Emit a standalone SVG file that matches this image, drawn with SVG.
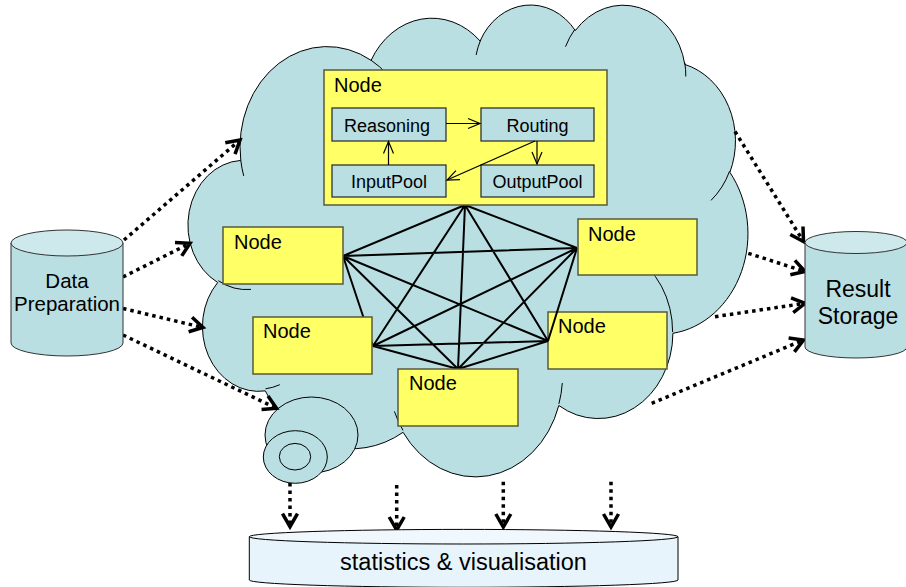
<svg xmlns="http://www.w3.org/2000/svg" width="906" height="587" viewBox="0 0 906 587">
<style>
.cloud{fill:#B9DFE2;stroke:#000;stroke-width:1}
.inner{fill:none;stroke:#000;stroke-width:1}
.bub{fill:#B9DFE2;stroke:#000;stroke-width:1}
.node{fill:#FFFF66;stroke:#5a5a3a;stroke-width:1.5}
.sub{fill:#B9DFE2;stroke:#333;stroke-width:1.3}
.mesh{stroke:#000;stroke-width:2;fill:none}
.dot{fill:none;stroke:#000;stroke-width:3.5;stroke-dasharray:3.5 4;marker-end:url(#vbig)}
.thin{fill:none;stroke:#000;stroke-width:1.2;marker-end:url(#vsm)}
.cyl{fill:#B9DFE2;stroke:#333;stroke-width:1}
.cyltop{fill:#CDE9EC;stroke:#333;stroke-width:1}
.cyl2{fill:#E8F4FB;stroke:#000;stroke-width:1}
.cyl2top{fill:#F1F8FD;stroke:#000;stroke-width:1}
text{font-family:"Liberation Sans",Arial,sans-serif;fill:#000}
.t20{font-size:20px}
.t18{font-size:18px;text-anchor:middle}
</style>
<defs>
<marker id="vbig" markerUnits="userSpaceOnUse" viewBox="-20 -10 24 20" refX="0" refY="0" markerWidth="24" markerHeight="20" orient="auto" overflow="visible">
<path d="M-13,-7.5 L0,0 L-13,7.5" fill="none" stroke="#000" stroke-width="3.5" stroke-dasharray="none"/>
</marker>
<marker id="vsm" markerUnits="userSpaceOnUse" viewBox="-20 -10 24 20" refX="0" refY="0" markerWidth="24" markerHeight="20" orient="auto" overflow="visible">
<path d="M-12,-5 L0,0 L-12,5" fill="none" stroke="#000" stroke-width="1.2"/>
</marker>
</defs>

<g id="cloud">
<path class="cloud" d="M240.8,160.4 A87.1,100.4 0 0 1 371.1,60.3 A68.8,79.4 0 0 1 480.1,41.0 A56.3,64.9 0 0 1 575.3,30.6 A62.7,72.0 0 0 1 684.8,64.4 A68.8,79.4 0 0 1 729.9,172.3 A87.4,100.7 0 0 1 672.9,333.3 A74.6,85.9 0 0 1 558.8,405.5 A87.1,100.6 0 0 1 403.1,432.3 A99.6,115.1 0 0 1 265.3,390.9 A56.2,64.6 0 0 1 217.7,282.5 A56.1,64.9 0 0 1 240.8,160.4 Z"/>
<path class="inner" d="M251.0,289.4 A56.1,64.9 0 0 1 218.3,280.7 M279.8,384.7 A56.2,64.6 0 0 1 265.5,388.8 M403.0,430.4 A87.1,100.6 0 0 1 394.4,411.4 M562.3,383.0 A87.1,100.6 0 0 1 558.9,403.9 M630.7,254.2 A74.6,85.9 0 0 1 672.6,332.1 M729.6,171.2 A68.8,79.4 0 0 1 711.0,200.4 M684.8,62.8 A62.7,72.0 0 0 1 685.8,76.5 M565.5,46.7 A62.7,72.0 0 0 1 575.1,29.0 M476.1,55.0 A56.3,64.9 0 0 1 480.7,39.9 M371.0,60.2 A87.1,100.4 0 0 1 387.8,74.9 M243.7,175.9 A87.1,100.4 0 0 1 240.8,160.4"/>
<ellipse class="bub" cx="311.5" cy="435" rx="46.5" ry="38"/>
<ellipse class="bub" cx="295.3" cy="457" rx="32" ry="26.3"/>
<ellipse class="bub" cx="295" cy="456.7" rx="15.7" ry="13.3"/>
</g>

<g id="node-e">
<rect class="node" x="548" y="312" width="119" height="57"/>
<text class="t20" x="558" y="333">Node</text>
</g>

<g id="connectors">
<g id="mesh">
<path class="mesh" d="M465,205 L343,256 M465,205 L577,248 M465,205 L373,346 M465,205 L548,341 M465,205 L458,369 M343,256 L577,248 M343,256 L373,346 M343,256 L548,341 M343,256 L458,369 M577,248 L373,346 M577,248 L548,341 M577,248 L458,369 M373,346 L548,341 M373,346 L458,369 M548,341 L458,369"/>
</g>
<g id="dotted">
<path class="dot" d="M124,240 L240,140"/>
<path class="dot" d="M123,277 L190,243.3"/>
<path class="dot" d="M123,308.5 L203,327.5"/>
<path class="dot" d="M123,335 L276.5,408.3"/>
<path class="dot" d="M735,131.5 L803.5,241.5"/>
<path class="dot" d="M748.3,253.3 L805,271.5"/>
<path class="dot" d="M715,316.7 L805,303.3"/>
<path class="dot" d="M651.7,403.3 L803.5,340"/>
<path class="dot" d="M290,483 L290,526.7"/>
<path class="dot" d="M396.7,485 L396.7,530"/>
<path class="dot" d="M503.3,481.7 L503.3,527"/>
<path class="dot" d="M611,481.7 L611,527"/>
</g>
</g>

<g id="node-a">
<rect class="node" x="223" y="227" width="120" height="57"/>
<text class="t20" x="234" y="249">Node</text>
</g>
<g id="node-b">
<rect class="node" x="253" y="317" width="119" height="57"/>
<text class="t20" x="263" y="338">Node</text>
</g>
<g id="node-c">
<rect class="node" x="398" y="369" width="120" height="57"/>
<text class="t20" x="409" y="390">Node</text>
</g>
<g id="node-d">
<rect class="node" x="578" y="219" width="119" height="56"/>
<text class="t20" x="588" y="241">Node</text>
</g>

<g id="node-main">
<rect class="node" x="324" y="70" width="283" height="135"/>
<text class="t20" x="334" y="92">Node</text>
<g id="reasoning"><rect class="sub" x="332" y="108" width="114" height="33"/><text class="t18" x="387" y="132">Reasoning</text></g>
<g id="routing"><rect class="sub" x="481" y="108" width="113" height="33"/><text class="t18" x="537.5" y="132">Routing</text></g>
<g id="inputpool"><rect class="sub" x="332" y="165" width="114" height="32"/><text class="t18" x="389" y="188">InputPool</text></g>
<g id="outputpool"><rect class="sub" x="481" y="165" width="113" height="32"/><text class="t18" x="537.5" y="188">OutputPool</text></g>
<g id="inner-connectors">
<path class="thin" d="M446,123.5 L480,123.5"/>
<path class="thin" d="M388.5,165 L388.5,141.5"/>
<path class="thin" d="M537,141 L537,164"/>
<path class="thin" d="M535,141 L447,180"/>
</g>
</g>

<g id="data-preparation">
<path class="cyl" d="M11,243 V343 A56,13 0 0 0 123,343 V243 Z"/>
<ellipse class="cyltop" cx="67" cy="243" rx="56" ry="13"/>
<text x="67" y="288" font-size="20.5" text-anchor="middle">Data</text>
<text x="67" y="311" font-size="20.5" text-anchor="middle">Preparation</text>
</g>

<g id="result-storage">
<path class="cyl" d="M805,242.5 V347 A51,11 0 0 0 907,347 V242.5 Z"/>
<ellipse class="cyltop" cx="856" cy="242.5" rx="51" ry="11"/>
<text x="858" y="297" font-size="23" text-anchor="middle">Result</text>
<text x="858" y="324" font-size="23" text-anchor="middle">Storage</text>
</g>

<g id="statistics">
<path class="cyl2" d="M249.3,536.7 V580 A214.3,7.3 0 0 0 678,580 V536.7 Z"/>
<ellipse class="cyl2top" cx="463.65" cy="536.7" rx="214.35" ry="7.3"/>
<text x="463.5" y="570" font-size="23.5" text-anchor="middle">statistics &amp; visualisation</text>
</g>
</svg>
